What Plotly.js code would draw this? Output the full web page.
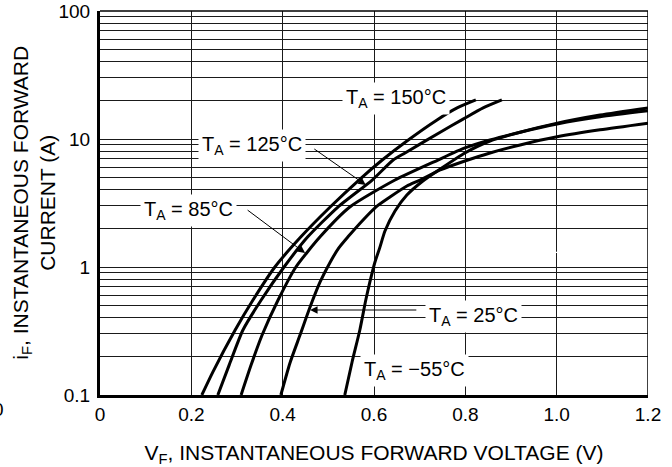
<!DOCTYPE html>
<html>
<head>
<meta charset="utf-8">
<script src="https://cdn.plot.ly/plotly-3.0.1.min.js"></script>
<style>html,body{margin:0;padding:0;background:#fff;}#chart{width:672px;height:467px;}</style>
</head>
<body>
<div id="chart"></div>
<script>
// ---- data (V in volts, I in amperes) ----
const seriesNames = ['T_A = 150°C', 'T_A = 125°C', 'T_A = 85°C', 'T_A = 25°C', 'T_A = −55°C'];

const v150 = [0.223, 0.247, 0.296, 0.335, 0.383, 0.440, 0.504, 0.567, 0.618, 0.672, 0.738, 0.782, 0.823];
const i150 = [0.10, 0.151, 0.322, 0.552, 1.00, 1.72, 2.94, 4.78, 6.85, 9.65, 14.1, 17.5, 20.2];

const v125 = [0.258, 0.283, 0.313, 0.353, 0.403, 0.455, 0.521, 0.596, 0.642, 0.668, 0.745, 0.795, 0.839, 0.880];
const i125 = [0.10, 0.172, 0.322, 0.552, 1.00, 1.72, 2.94, 4.78, 6.85, 7.78, 11.3, 14.3, 17.5, 20.2];

const v85 = [0.309, 0.331, 0.355, 0.390, 0.429, 0.482, 0.547, 0.646, 0.740, 0.799, 0.854, 0.920, 1.001, 1.095, 1.200];
const i85 = [0.10, 0.172, 0.294, 0.552, 1.00, 1.72, 2.94, 4.78, 6.85, 8.51, 9.82, 11.3, 13.1, 14.9, 16.6];

const v25 = [0.396, 0.416, 0.438, 0.460, 0.482, 0.504, 0.523, 0.543, 0.574, 0.604, 0.635, 0.672, 0.701, 0.745, 0.799, 0.854, 0.920, 1.001, 1.095, 1.200];
const i25 = [0.10, 0.178, 0.294, 0.487, 0.764, 1.09, 1.41, 1.72, 2.29, 2.94, 3.52, 4.29, 4.78, 5.73, 6.73, 7.78, 8.98, 10.4, 11.8, 13.3];

const vM55 = [0.536, 0.552, 0.569, 0.582, 0.591, 0.602, 0.613, 0.624, 0.646, 0.672, 0.707, 0.745, 0.799, 0.854, 0.920, 1.001, 1.095, 1.200];
const iM55 = [0.10, 0.181, 0.322, 0.552, 0.764, 1.09, 1.43, 1.91, 2.74, 3.65, 4.70, 5.83, 7.78, 9.65, 11.3, 13.3, 15.4, 17.5];

const xTickVals = [0, 0.2, 0.4, 0.6, 0.8, 1.0, 1.2];
const xTickText = ['0', '0.2', '0.4', '0.6', '0.8', '1.0', '1.2'];
const yTickVals = [0.1, 1, 10, 100];
const yTickText = ['0.1', '1', '10', '100'];
const decades = [0.1, 1, 10];
const minorSteps = [2, 3, 4, 5, 6, 7, 8, 9];

const labelTexts = ['T<sub>A</sub> = 150°C', 'T<sub>A</sub> = 125°C', 'T<sub>A</sub> = 85°C',
                    'T<sub>A</sub> = 25°C', 'T<sub>A</sub> = −55°C'];
const xTitle = 'V<sub>F</sub>, INSTANTANEOUS FORWARD VOLTAGE (V)';
const yTitle = 'i<sub>F</sub>, INSTANTANEOUS FORWARD<br>CURRENT (A)';

// ---- build ----
const minorVals = [];
decades.forEach(d => minorSteps.forEach(m => minorVals.push(+(d * m).toPrecision(3))));

const seriesV = [v150, v125, v85, v25, vM55];
const seriesI = [i150, i125, i85, i25, iM55];

const traces = seriesV.map((vx, k) => ({
  type: 'scatter', mode: 'lines', name: seriesNames[k],
  x: vx, y: seriesI[k],
  line: {color: '#000', width: 3, shape: 'spline', smoothing: 0.6},
  hoverinfo: 'skip'
}));

const FONT = '"Liberation Sans", Arial, Helvetica, sans-serif';
const lg = Math.log10;
const xMax = xTickVals[xTickVals.length - 1];

function label(text, x, y) {
  return {xref: 'x', yref: 'y', x: x, y: y, text: text, showarrow: false,
          bgcolor: '#fff', borderpad: 3, font: {size: 20, color: '#000', family: FONT},
          xanchor: 'center', yanchor: 'middle'};
}
function arrow(x, y, ax, ay) {
  return {xref: 'x', yref: 'y', axref: 'x', ayref: 'y', x: x, y: y, ax: ax, ay: ay,
          text: '', showarrow: true, arrowhead: 2, arrowsize: 1.5, arrowwidth: 1,
          arrowcolor: '#000', standoff: 0, startstandoff: 0};
}

const annotations = [
  label(labelTexts[0], 0.648, 1.316),
  label(labelTexts[1], 0.333, 0.953),
  label(labelTexts[2], 0.193, 0.445),
  label(labelTexts[3], 0.817, -0.383),
  label(labelTexts[4], 0.688, -0.805),
  arrow(0.582, 0.641, 0.466, 0.930),
  arrow(0.449, 0.109, 0.320, 0.453),
  arrow(0.460, -0.336, 0.696, -0.336),
  // y-axis title (two lines, rotated)
  {xref: 'paper', yref: 'paper', x: -0.121, y: 0.5, text: yTitle, showarrow: false, textangle: -90,
   font: {size: 21, color: '#000', family: FONT}, xanchor: 'center', yanchor: 'middle'},
  // fragment of a neighbouring label cut by the left edge, as in the reference
  {xref: 'paper', yref: 'paper', x: -0.186, y: -0.039, text: '0', showarrow: false,
   font: {size: 19, color: '#000', family: FONT}, xanchor: 'center', yanchor: 'middle'}
];

const shapes = [
  // erase the 20 A grid line to the right of the 150 °C curve end (as in the reference)
  {type: 'rect', layer: 'between', xref: 'x', yref: 'y',
   x0: v150[v150.length - 1], x1: xMax, y0: lg(20) - 0.012, y1: lg(20) + 0.012,
   fillcolor: '#fff', line: {width: 0}},
  // thin frame: right and top edges
  {type: 'line', layer: 'above', xref: 'x', yref: 'paper', x0: xMax, x1: xMax, y0: 0, y1: 1,
   line: {color: '#000', width: 1.5}},
  {type: 'line', layer: 'above', xref: 'paper', yref: 'paper', x0: 0, x1: 1, y0: 1, y1: 1,
   line: {color: '#000', width: 1.5}}
];

const gridCol = '#1a1a1a';
const layout = {
  width: 672, height: 467,
  margin: {l: 100, r: 24, t: 11, b: 72, pad: 0},
  paper_bgcolor: '#fff', plot_bgcolor: '#fff',
  showlegend: false,
  font: {family: FONT, color: '#000', size: 19},
  xaxis: {
    range: [0, xMax], tickmode: 'array', tickvals: xTickVals, ticktext: xTickText,
    showgrid: true, gridcolor: gridCol, gridwidth: 1, zeroline: false,
    showline: true, linecolor: '#000', linewidth: 3, ticks: '',
    ticklabelstandoff: 0, tickfont: {size: 19},
    title: {text: xTitle, font: {size: 21}, standoff: 24},
    fixedrange: true
  },
  yaxis: {
    type: 'log', range: [-1, 2], tickmode: 'array', tickvals: yTickVals, ticktext: yTickText,
    showgrid: true, gridcolor: gridCol, gridwidth: 1, zeroline: false,
    minor: {tickmode: 'array', tickvals: minorVals, showgrid: true, gridcolor: gridCol, gridwidth: 1, ticks: ''},
    showline: true, linecolor: '#000', linewidth: 3, ticks: '',
    ticklabelstandoff: 3, tickfont: {size: 19},
    fixedrange: true
  },
  annotations: annotations,
  shapes: shapes
};

Plotly.newPlot('chart', traces, layout, {staticPlot: true, displayModeBar: false});
</script>
</body>
</html>
